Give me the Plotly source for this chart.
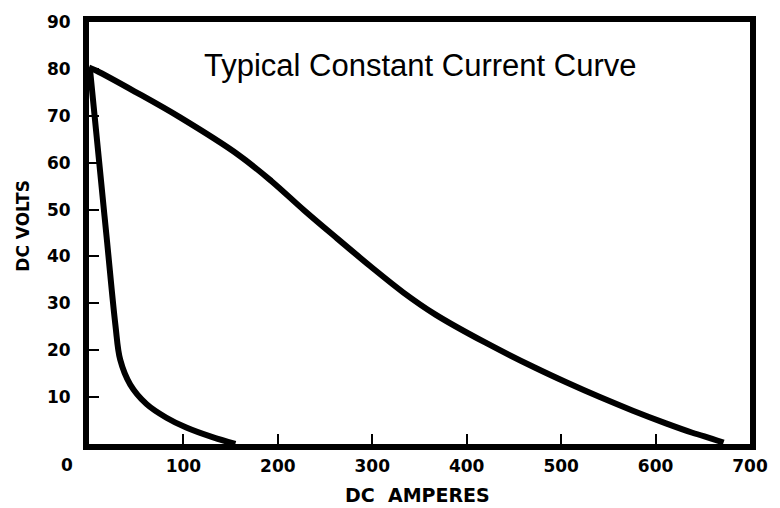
import plotly.graph_objects as go

# Data
amps_a = [0, 8, 50, 96, 158, 193, 228, 263, 298, 333, 367, 420, 472, 506, 541, 576, 611, 639, 660, 672]
volts_a = [80.3, 79.6, 75.0, 69.7, 61.7, 56.1, 49.8, 43.8, 37.9, 32.3, 27.6, 21.6, 16.3, 13.1, 10.0, 7.1, 4.4, 2.4, 1.1, 0.3]

amps_b = [1, 10.7, 19.3, 28, 33, 43.6, 61, 82, 103, 130, 155]
volts_b = [80, 60.3, 42.8, 25.3, 18, 12.7, 8.5, 5.6, 3.5, 1.5, 0]

x_ticks = [100, 200, 300, 400, 500, 600, 700]
y_ticks = [10, 20, 30, 40, 50, 60, 70, 80, 90]

title_text = "Typical Constant Current Curve"
x_title = "DC&nbsp;&nbsp;AMPERES"
y_title = "DC VOLTS"

fig = go.Figure()
for xs, ys in [(amps_a, volts_a), (amps_b, volts_b)]:
    fig.add_trace(go.Scatter(x=xs, y=ys, mode="lines",
                             line=dict(color="black", width=6, shape="spline", smoothing=1.0),
                             showlegend=False, hoverinfo="skip"))

tickfont = dict(family="DejaVu Sans", size=17, color="black", weight="bold")
fig.update_layout(
    width=780, height=508,
    margin=dict(l=89, r=21, t=15, b=64),
    paper_bgcolor="white", plot_bgcolor="white",
    xaxis=dict(range=[0, 700], tickvals=x_ticks, ticktext=[str(v) for v in x_ticks],
               ticks="inside", ticklen=10, tickwidth=2, tickcolor="black",
               showline=True, linewidth=6, linecolor="black", mirror=True,
               showgrid=False, zeroline=False, tickfont=tickfont, fixedrange=True,
               ticklabelstandoff=2),
    yaxis=dict(range=[0, 90], tickvals=y_ticks, ticktext=[str(v) for v in y_ticks],
               ticks="inside", ticklen=10, tickwidth=2, tickcolor="black",
               showline=True, linewidth=6, linecolor="black", mirror=True,
               showgrid=False, zeroline=False, tickfont=tickfont, fixedrange=True,
               ticklabelstandoff=9),
)

common = dict(xref="paper", yref="paper", showarrow=False, xanchor="center", yanchor="middle")
fig.add_annotation(text=title_text, x=0.5015, y=0.898,
                   font=dict(family="Liberation Sans", size=31, color="black"), **common)
fig.add_annotation(text=x_title, x=0.497, y=-0.122,
                   font=dict(family="DejaVu Sans", size=19, color="black", weight="bold"), **common)
fig.add_annotation(text=y_title, x=-0.1, y=0.517, textangle=-90,
                   font=dict(family="DejaVu Sans", size=17, color="black", weight="bold"), **common)
fig.add_annotation(text="0", x=-0.033, y=-0.050, font=tickfont, **common)

fig.write_html("out.html")
